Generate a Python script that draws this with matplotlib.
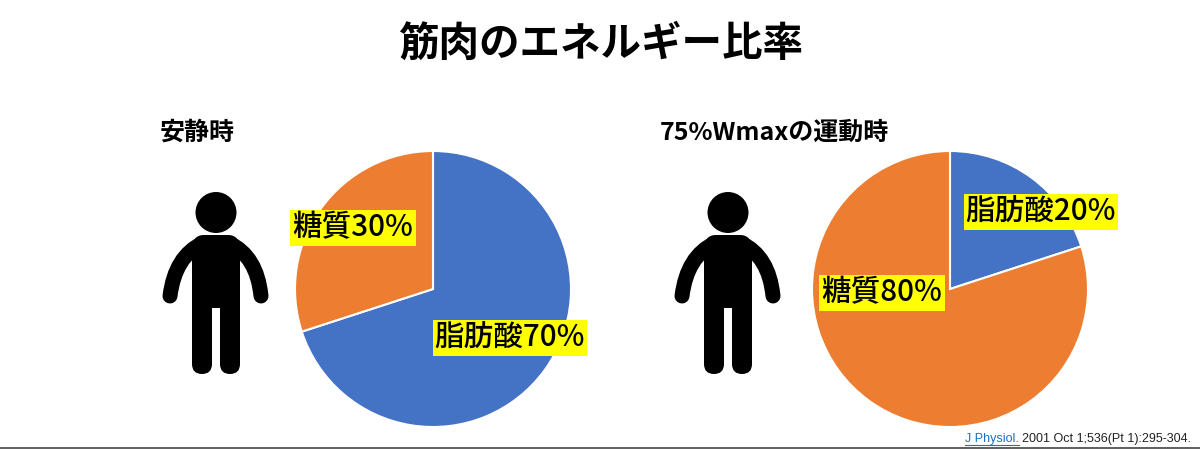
import matplotlib
matplotlib.use('Agg')
import matplotlib.pyplot as plt
from matplotlib.patches import Circle, PathPatch
from matplotlib.path import Path

plt.rcParams['font.family'] = ['Noto Sans CJK JP', 'DejaVu Sans']

H = 449
title = '筋肉のエネルギー比率'
rest_title = '安静時'
exercise_title = '75%Wmaxの運動時'
rest_values = [70, 30]
rest_labels = ['脂肪酸70%', '糖質30%']
exercise_values = [20, 80]
exercise_labels = ['脂肪酸20%', '糖質80%']
colors = ['#4472C4', '#ED7D31']


def person(ax, dx):
    # coordinates are picture pixels, y flipped here
    ax.add_patch(Circle((216 + dx, H - 212.5), 20.5, color='black', lw=0))
    verts = [(192, 300), (192, 364), (192, 374), (202, 374), (212, 374), (212, 364),
             (212, 308), (220, 308), (220, 364), (220, 374), (230, 374), (240, 374),
             (240, 364), (240, 250), (240, 235), (228, 235), (204, 235), (192, 235),
             (192, 250), (192, 300)]
    codes = [Path.MOVETO, Path.LINETO, Path.CURVE3, Path.CURVE3, Path.CURVE3, Path.CURVE3,
             Path.LINETO, Path.LINETO, Path.LINETO, Path.CURVE3, Path.CURVE3, Path.CURVE3,
             Path.CURVE3, Path.LINETO, Path.CURVE3, Path.CURVE3, Path.LINETO, Path.CURVE3,
             Path.CURVE3, Path.CLOSEPOLY]
    body = Path([(x + dx, H - y) for x, y in verts], codes)
    ax.add_patch(PathPatch(body, fc='black', ec='none'))
    for x0, x1, x2 in [(203, 175, 170), (229, 257, 261)]:
        arm = Path([(x0 + dx, H - 243), (x1 + dx, H - 256), (x2 + dx, H - 296)],
                   [Path.MOVETO, Path.CURVE3, Path.CURVE3])
        ax.add_patch(PathPatch(arm, fc='none', ec='black', lw=10.8, capstyle='round'))


def label(ax, x, y, text):
    ax.text(x, H - y, text, fontsize=21.3, fontweight='medium', color='black',
            ha='center', va='center', zorder=5,
            bbox=dict(facecolor='#FFFF00', edgecolor='none', pad=1.5))


fig = plt.figure(figsize=(12, 4.49), dpi=100)
ax = fig.add_axes([0, 0, 1, 1])

ax.pie(rest_values, colors=colors, startangle=90, counterclock=False, radius=138,
       center=(433, H - 289), frame=True, wedgeprops=dict(edgecolor='white', linewidth=1.5))
ax.pie(exercise_values, colors=colors, startangle=90, counterclock=False, radius=138,
       center=(950, H - 289), frame=True, wedgeprops=dict(edgecolor='white', linewidth=1.5))
ax.set_xlim(0, 1200)
ax.set_ylim(0, H)
ax.set_aspect('auto')
ax.axis('off')

person(ax, 0)
person(ax, 512)

ax.text(601, H - 44, title, fontsize=29.2, fontweight='bold', ha='center', va='center')
ax.text(197, H - 133, rest_title, fontsize=18, fontweight='bold', ha='center', va='center')
ax.text(774, H - 133, exercise_title, fontsize=18, fontweight='bold', ha='center', va='center')

label(ax, 510, 338, rest_labels[0])
label(ax, 353, 228, rest_labels[1])
label(ax, 1041, 212, exercise_labels[0])
label(ax, 882, 293, exercise_labels[1])

# citation, link part in blue
ax.text(965, H - 439, 'J Physiol.', fontsize=9, color='#1F6FC4', family='Liberation Sans',
        va='center', ha='left')
ax.plot([965, 1019], [H - 445, H - 445], color='#1F6FC4', lw=0.8)
ax.text(1022, H - 439, '2001 Oct 1;536(Pt 1):295-304.', fontsize=9, color='#222222',
        family='Liberation Sans', va='center', ha='left')
ax.plot([0, 1200], [H - 448, H - 448], color='#444444', lw=1.2)

fig.savefig('out.png', dpi=100)
